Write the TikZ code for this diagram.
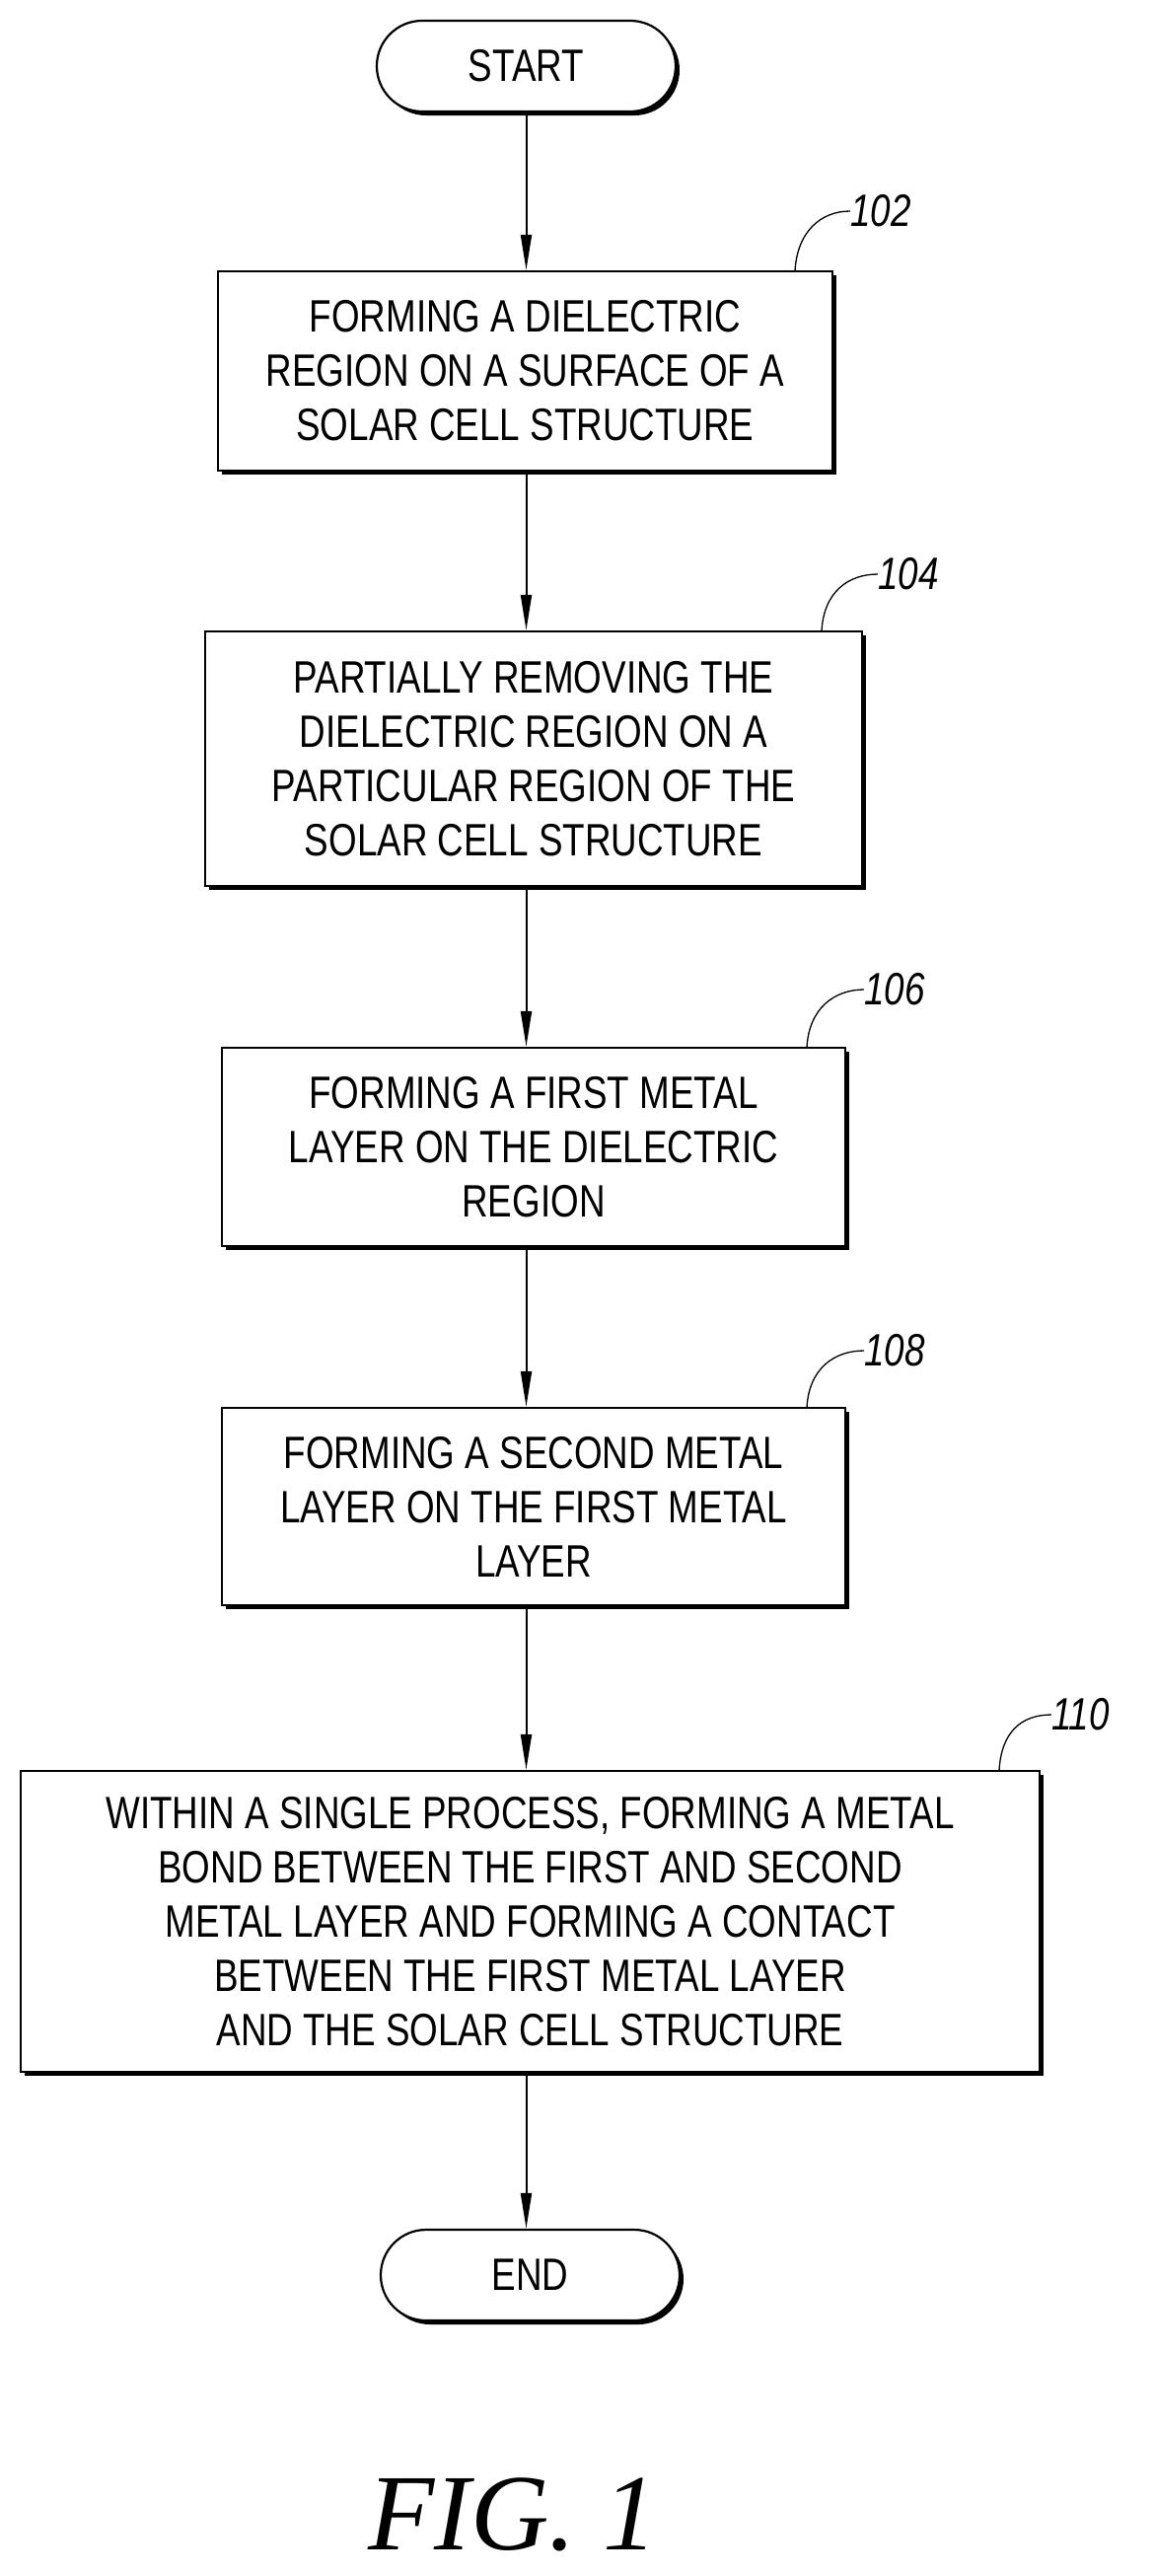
\documentclass[tikz,border=0pt]{standalone}
\usepackage{fontspec}
\setmainfont{Liberation Sans}[FakeStretch=0.8]
\newfontfamily\figfont{Liberation Serif}
\usetikzlibrary{shapes.misc,shadows,arrows.meta,calc}
\begin{document}
\begin{tikzpicture}[x=1pt,y=-1pt,
  box/.style={draw,line width=2.2pt,fill=white,align=center,inner sep=0pt,
    font=\fontsize{46}{55}\selectfont,
    drop shadow={shadow xshift=4pt,shadow yshift=-4pt,opacity=1,fill=black}},
  term/.style={box,rounded rectangle,minimum width=303pt,minimum height=92pt},
  arr/.style={line width=2pt,-{Triangle[length=36pt,width=11pt]}},
  lead/.style={line width=1.3pt},
  lbl/.style={anchor=west,inner sep=0pt,font=\fontsize{46}{46}\selectfont\itshape}]
\useasboundingbox (0,0) rectangle (1170,2611);
\node[term] (s) at (533.5,67) {START};
\node[box,minimum width=623pt,minimum height=202pt] (b102) at (532.5,376)
  {FORMING A DIELECTRIC\\REGION ON A SURFACE OF A\\SOLAR CELL STRUCTURE};
\node[box,minimum width=666pt,minimum height=258pt] (b104) at (541,769)
  {PARTIALLY REMOVING THE\\DIELECTRIC REGION ON A\\PARTICULAR REGION OF THE\\SOLAR CELL STRUCTURE};
\node[box,minimum width=632pt,minimum height=201pt] (b106) at (541,1162.5)
  {FORMING A FIRST METAL\\LAYER ON THE DIELECTRIC\\REGION};
\node[box,minimum width=632pt,minimum height=200pt] (b108) at (541,1527)
  {FORMING A SECOND METAL\\LAYER ON THE FIRST METAL\\LAYER};
\node[box,minimum width=1033pt,minimum height=305pt] (b110) at (537.5,1947.5)
  {WITHIN A SINGLE PROCESS, FORMING A METAL\\BOND BETWEEN THE FIRST AND SECOND\\METAL LAYER AND FORMING A CONTACT\\BETWEEN THE FIRST METAL LAYER\\AND THE SOLAR CELL STRUCTURE};
\node[term] (e) at (537.5,2306) {END};
\draw[arr] (s.south) -- (b102.north -| s.south);
\draw[arr] (b102.south -| s.south) -- (b104.north -| s.south);
\draw[arr] (b104.south -| s.south) -- (b106.north -| s.south);
\draw[arr] (b106.south -| s.south) -- (b108.north -| s.south);
\draw[arr] (b108.south -| s.south) -- (b110.north -| s.south);
\draw[arr] (b110.south -| s.south) -- (e.north -| s.south);
\node[lbl] (l102) at (862,214) {102};
\node[lbl] (l104) at (890,582) {104};
\node[lbl] (l106) at (876,1003) {106};
\node[lbl] (l108) at (876,1369) {108};
\node[lbl] (l110) at (1066,1738) {110};
\coordinate (c102) at (806,275);
\coordinate (c104) at (833,640);
\coordinate (c106) at (818,1062);
\coordinate (c108) at (818,1427);
\coordinate (c110) at (1013,1795);
\foreach \n in {102,104,106,108,110}
  \draw[lead] (c\n) .. controls ($(c\n)+(2,-40)$) and ($(l\n.west)+(-30,0)$) .. (l\n.west);
\node[inner sep=0pt,font=\figfont\fontsize{110}{110}\selectfont\itshape] (fig) at (520,2549) {FIG. 1};
\end{tikzpicture}
\end{document}
